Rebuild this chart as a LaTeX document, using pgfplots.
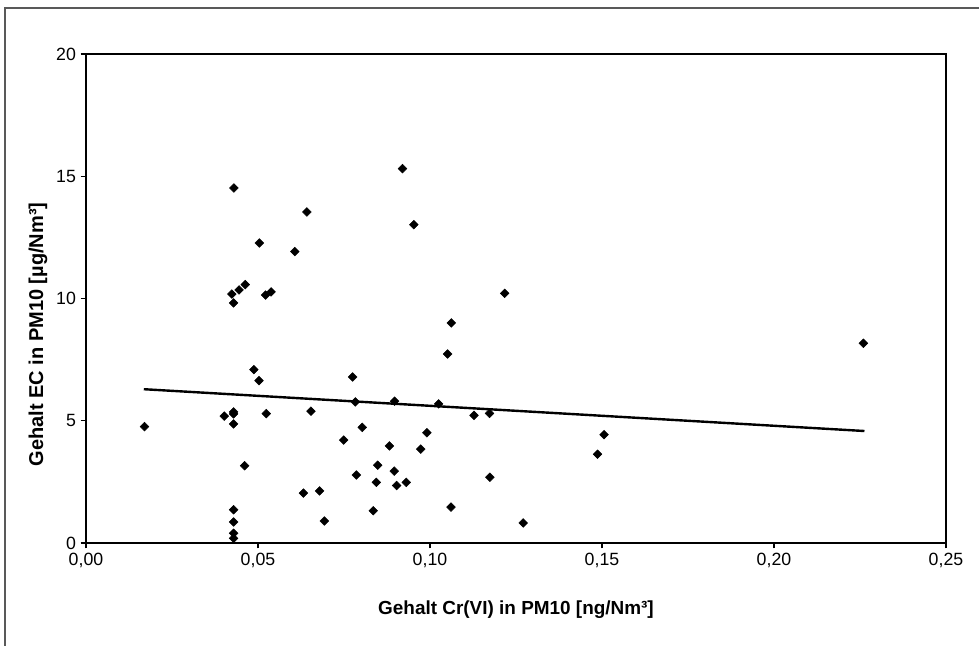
\documentclass[border=0pt]{standalone}
\usepackage{pgfplots}
\pgfplotsset{compat=1.18}
\usepackage{fontspec}
\setmainfont{Liberation Sans}

\pgfplotstableread{
x y
0.0170 4.76
0.0402 5.19
0.0429 5.28
0.0429 5.36
0.0429 4.87
0.0429 9.82
0.0424 10.18
0.0430 14.52
0.0429 1.36
0.0429 0.86
0.0429 0.40
0.0429 0.19
0.0445 10.35
0.0463 10.57
0.0461 3.16
0.0488 7.09
0.0503 6.64
0.0504 12.27
0.0522 10.14
0.0524 5.29
0.0538 10.27
0.0607 11.92
0.0632 2.04
0.0642 13.54
0.0654 5.39
0.0679 2.13
0.0693 0.90
0.0749 4.21
0.0775 6.79
0.0783 5.77
0.0786 2.78
0.0803 4.73
0.0835 1.32
0.0844 2.48
0.0848 3.18
0.0882 3.97
0.0896 2.94
0.0897 5.80
0.0903 2.35
0.0920 15.31
0.0931 2.48
0.0953 13.02
0.0973 3.84
0.0991 4.51
0.1025 5.69
0.1051 7.73
0.1061 1.47
0.1062 9.00
0.1128 5.22
0.1173 5.30
0.1174 2.69
0.1217 10.21
0.1271 0.82
0.1487 3.63
0.1506 4.43
0.2260 8.17
}\datatable

\begin{document}
\begin{tikzpicture}
\path[use as bounding box] (0,0) rectangle (734.25pt,484.5pt);
% outer chart frame (right and bottom edges lie outside the image)
\draw[black!65, line width=0.8pt] (3.75pt,-20pt) -- (3.75pt,478.5pt) -- (760pt,478.5pt);
\begin{axis}[
    at={(64.5pt,77.25pt)}, anchor=south west,
    scale only axis,
    width=645pt, height=366.75pt,
    xmin=0, xmax=0.25,
    ymin=0, ymax=20,
    xtick={0,0.05,0.1,0.15,0.2,0.25},
    ytick={0,5,10,15,20},
    tick align=outside,
    tick pos=left,
    major tick length=4pt,
    axis line style={line width=1.3pt},
    every tick/.style={black, line width=0.9pt},
    /pgf/number format/assume math mode=true,
    xticklabel style={/pgf/number format/.cd, fixed, fixed zerofill, precision=2, use comma},
    tick label style={font=\fontsize{13.3}{15}\selectfont},
    xlabel style={font=\bfseries\fontsize{14.2}{16}\selectfont},
    ylabel style={font=\bfseries\fontsize{15}{17}\selectfont},
    xlabel={Gehalt Cr(VI) in PM10 [ng/Nm³]},
    ylabel={Gehalt EC in PM10 [µg/Nm³]},
    xlabel style={at={(axis description cs:0.5,0)}, anchor=center, yshift=-50pt},
    ylabel style={at={(axis description cs:0,0.5)}, anchor=center, yshift=36pt, xshift=-27pt},
    clip=false
]

% measurements
\addplot[only marks, mark=square*, mark size=2.3pt, mark options={rotate=45, fill=black, draw=black}] table[x=x, y=y] {\datatable};

% linear trend
\addplot[black, line width=1.8pt, no marks] coordinates {
    (0.0168, 6.29) (0.2263, 4.58)
};

\end{axis}
\end{tikzpicture}
\end{document}
